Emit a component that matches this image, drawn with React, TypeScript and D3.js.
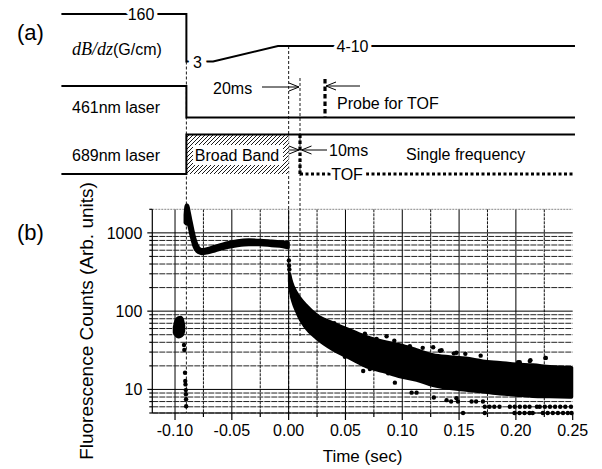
import React, { useRef, useEffect } from "react";
import * as d3 from "d3";

// ---- (b) fluorescence counts ----
// bright spike + plateau after the blue MOT is switched off
const plateauT = [-0.091, -0.09, -0.089, -0.0875, -0.086, -0.0845, -0.083, -0.081, -0.079, -0.0765, -0.072, -0.065, -0.055, -0.045, -0.035, -0.025, -0.015, -0.005, -0.0005];
const plateauLo = [1350, 1300, 1350, 1200, 950, 780, 660, 590, 560, 545, 555, 590, 650, 690, 710, 710, 690, 670, 650];
const plateauHi = [1700, 2250, 2250, 1800, 1400, 1100, 880, 720, 640, 610, 625, 670, 740, 790, 810, 800, 780, 760, 750];

// blue MOT fluorescence before t = -0.09
const blobT = [-0.1005, -0.099, -0.097, -0.095, -0.0935, -0.0925];
const blobLo = [53, 49, 47, 48, 50, 56];
const blobHi = [62, 76, 82, 83, 77, 66];

// decay after the broad band is switched off
const decayT = [0.0008, 0.002, 0.004, 0.007, 0.01, 0.015, 0.0246, 0.0393, 0.054, 0.0686, 0.0832, 0.0979, 0.1126, 0.127, 0.1419, 0.156, 0.171, 0.186, 0.2, 0.215, 0.23, 0.249];
const decayHi = [300, 250, 205, 170, 146, 120, 89, 70, 57.5, 47, 41, 37, 32, 27.6, 26, 25, 23, 22, 21, 20.5, 19.5, 19];
const decayLo = [240, 170, 130, 100, 80, 62, 45, 32, 25, 19.5, 17, 14.6, 13.2, 11.3, 10.3, 9.8, 9.3, 8.8, 8.5, 8.2, 8.1, 8];

// single points outside / on the edge of the dense band
const dotT = [
  -0.0921, -0.0918, -0.0912, -0.0910, -0.0908, -0.0905, -0.0904, -0.0903, -0.0902,
  0.0002, 0.0004, 0.0006,
  0.0401, 0.0495, 0.0627, 0.0656, 0.0671, 0.0715, 0.0774, 0.0803, 0.0862, 0.0876, 0.093, 0.0935,
  0.1067, 0.1082, 0.1126, 0.118, 0.1272, 0.1278, 0.1331, 0.1346, 0.1454, 0.1477, 0.1555, 0.169,
  0.2019, 0.2034, 0.2122, 0.2128, 0.226, 0.2263,
  0.139, 0.143, 0.1477, 0.149, 0.161, 0.165, 0.171,
  0.1726, 0.1768, 0.181, 0.1856, 0.1947, 0.199, 0.2035, 0.208, 0.212, 0.2185, 0.221, 0.2255, 0.23, 0.2345, 0.239, 0.2435, 0.2485,
  0.1535, 0.1726, 0.1988, 0.2032, 0.2076, 0.212, 0.2148, 0.2237, 0.228, 0.2325, 0.237, 0.2415, 0.2457, 0.249,
];
const dotV = [
  37, 32, 16.3, 12.8, 11.6, 9.8, 8.7, 7.5, 6.1,
  445, 380, 340,
  70, 26.2, 24, 17.2, 51.5, 18.2, 44, 18.2, 47.8, 16.1, 42, 12.2,
  35.6, 9.1, 9.1, 34, 34.6, 7.9, 31.2, 31.7, 28.9, 29.4, 28.5, 27,
  22.2, 22.2, 23, 23.6, 25.3, 25.3,
  7.3, 7, 7.7, 7, 7, 7, 7,
  6, 6, 6, 6, 6, 6, 6, 6, 6, 6, 6, 6, 6, 6, 6, 6, 6,
  5, 5, 5, 5, 5, 5, 5, 5, 5, 5, 5, 5, 5, 5,
];

const xTicks = [-0.1, -0.05, 0, 0.05, 0.1, 0.15, 0.2, 0.25];
const xMinor = [-0.075, -0.025, 0.025, 0.075, 0.125, 0.175, 0.225];
const xTickLabels = ["-0.10", "-0.05", "0.00", "0.05", "0.10", "0.15", "0.20", "0.25"];
const yLabels = [10, 100, 1000];

// ---- (a) timing sequence, times in sec ----
const tLeft = -0.2;
const tMotOff = -0.09;
const tRampStart = -0.0665;
const tRampEnd = -0.0094;
const tBroadOff = 0;
const tRelease = 0.01;
const tProbe = 0.032;
const tRight = 0.252;

const SANS = "'Liberation Sans', Arial, Helvetica, sans-serif";

export default function App() {
  const ref = useRef<SVGSVGElement>(null);

  useEffect(() => {
    const svg = d3.select(ref.current);
    svg.selectAll("*").remove();

    const x = d3.scaleLinear().domain([-0.12, 0.25]).range([152.3, 572.7]);
    const y = d3.scaleLog().domain([5, 2000]).range([413, 209.3]);
    const [left, right] = x.range();
    const [bottom, top] = y.range();

    const defs = svg.append("defs");
    const pat = defs
      .append("pattern")
      .attr("id", "hatch")
      .attr("patternUnits", "userSpaceOnUse")
      .attr("width", 4)
      .attr("height", 4);
    pat.append("rect").attr("width", 4).attr("height", 4).attr("fill", "#fff");
    pat
      .append("path")
      .attr("d", "M-1,1 l2,-2 M0,4 l4,-4 M3,5 l2,-2")
      .attr("stroke", "#000")
      .attr("stroke-width", 0.9);

    // grid
    const grid = svg.append("g");
    grid
      .selectAll("line.vmin")
      .data(xMinor)
      .join("line")
      .attr("x1", (d) => x(d))
      .attr("x2", (d) => x(d))
      .attr("y1", top)
      .attr("y2", bottom)
      .attr("stroke", "#111")
      .attr("stroke-width", 1)
      .attr("stroke-dasharray", "3,1");
    grid
      .selectAll("line.vmaj")
      .data(xTicks.filter((d) => d < 0.249))
      .join("line")
      .attr("x1", (d) => x(d))
      .attr("x2", (d) => x(d))
      .attr("y1", top)
      .attr("y2", bottom)
      .attr("stroke", "#000")
      .attr("stroke-width", 1);
    const yt = y.ticks();
    grid
      .selectAll("line.h")
      .data(yt)
      .join("line")
      .attr("x1", left)
      .attr("x2", right)
      .attr("y1", (d) => y(d))
      .attr("y2", (d) => y(d))
      .attr("stroke", (d) => (d >= 2000 ? "#888" : Math.log10(d) % 1 === 0 ? "#000" : "#222"))
      .attr("stroke-width", 1)
      .attr("stroke-dasharray", (d) => (Math.log10(d) % 1 === 0 ? null : d >= 2000 ? "2,1" : "6,1"));

    // axes
    const ax = svg.append("g").attr("stroke", "#000").attr("stroke-width", 1.2);
    ax.append("line").attr("x1", left).attr("x2", left).attr("y1", top).attr("y2", bottom);
    ax.append("line").attr("x1", left).attr("x2", right).attr("y1", bottom).attr("y2", bottom);
    ax.selectAll("line.yt")
      .data(yt)
      .join("line")
      .attr("x1", left)
      .attr("x2", (d) => left - (yLabels.includes(d) ? 5 : 3))
      .attr("y1", (d) => y(d))
      .attr("y2", (d) => y(d));
    ax.selectAll("line.xt")
      .data([...xTicks, ...xMinor])
      .join("line")
      .attr("x1", (d) => x(d))
      .attr("x2", (d) => x(d))
      .attr("y1", bottom)
      .attr("y2", (d) => bottom + (xTicks.includes(d) ? 7 : 4));

    const lab = svg.append("g").attr("font-family", SANS).attr("font-size", 16).attr("fill", "#000");
    lab.selectAll("text.yl")
      .data(yLabels)
      .join("text")
      .attr("x", left - 10)
      .attr("y", (d) => y(d))
      .attr("dy", "0.36em")
      .attr("text-anchor", "end")
      .text((d) => String(d));
    lab.selectAll("text.xl")
      .data(xTicks)
      .join("text")
      .attr("x", (d) => x(d))
      .attr("y", bottom + 23)
      .attr("text-anchor", "middle")
      .text((d, i) => xTickLabels[i]);
    lab.append("text")
      .attr("x", (left + right) / 2)
      .attr("y", 462)
      .attr("text-anchor", "middle")
      .attr("font-size", 17)
      .text("Time (sec)");
    lab.append("text")
      .attr("transform", "translate(93,321) rotate(-90)")
      .attr("text-anchor", "middle")
      .attr("font-size", 19)
      .text("Fluorescence Counts (Arb. units)");

    // dashed timing markers running through both panels
    const dashed = svg.append("g").attr("stroke", "#000").attr("stroke-width", 0.9).attr("stroke-dasharray", "3,2");
    dashed.append("line").attr("x1", x(tMotOff)).attr("x2", x(tMotOff)).attr("y1", 61.5).attr("y2", bottom);
    dashed.append("line").attr("x1", x(tBroadOff)).attr("x2", x(tBroadOff)).attr("y1", 46).attr("y2", bottom);
    dashed.append("line").attr("x1", x(tRelease)).attr("x2", x(tRelease)).attr("y1", 78).attr("y2", 337);

    // data
    const band = (ts: number[], lo: number[], hi: number[]) =>
      d3
        .area<number>()
        .x((d) => x(ts[d]))
        .y0((d) => y(lo[d]))
        .y1((d) => y(hi[d]))
        .curve(d3.curveMonotoneX)(d3.range(ts.length));
    const data = svg.append("g").attr("fill", "#000").attr("stroke", "#000").attr("stroke-width", 3.4).attr("stroke-linejoin", "round");
    data.append("path").attr("d", band(blobT, blobLo, blobHi));
    data.append("path").attr("d", band(plateauT, plateauLo, plateauHi));
    data.append("path").attr("d", band(decayT, decayLo, decayHi));
    svg
      .append("g")
      .selectAll("circle")
      .data(dotT)
      .join("circle")
      .attr("cx", (d) => x(d))
      .attr("cy", (d, i) => y(dotV[i]))
      .attr("r", 2.2)
      .attr("fill", "#000");

    // ---- (a) timing diagram ----
    const td = svg.append("g");
    const solid = td.append("g").attr("fill", "none").attr("stroke", "#000").attr("stroke-width", 2);
    solid.append("path").attr(
      "d",
      `M${x(tLeft)},14H${x(tMotOff)}V61.5H${x(tRampStart)}L${x(tRampEnd)},46H${x(tRight)}`
    );
    solid.append("path").attr("d", `M${x(tLeft)},86H${x(tMotOff)}V117.5H${x(tRight)}`);
    td.append("rect")
      .attr("x", x(tMotOff))
      .attr("y", 134.5)
      .attr("width", x(tBroadOff) - x(tMotOff))
      .attr("height", 39.5)
      .attr("fill", "url(#hatch)");
    td.append("rect").attr("x", 193).attr("y", 145).attr("width", 90).attr("height", 20).attr("fill", "#fff");
    solid.raise();
    solid.append("path").attr("d", `M${x(tLeft)},174H${x(tMotOff)}V134.5H${x(tRight)}`);

    const dotted = td.append("g").attr("stroke", "#000").attr("stroke-width", 3.2);
    dotted.append("line").attr("x1", x(tProbe)).attr("x2", x(tProbe)).attr("y1", 79).attr("y2", 117.5).attr("stroke-dasharray", "4.5,3");
    dotted.append("line").attr("x1", x(tRelease)).attr("x2", x(tRelease)).attr("y1", 134.5).attr("y2", 174).attr("stroke-dasharray", "3.5,2.5");
    dotted.append("line").attr("x1", x(tRelease)).attr("x2", x(tRight)).attr("y1", 174).attr("y2", 174).attr("stroke-dasharray", "3,2.5");

    const arrow = (x1: number, x2: number, yy: number) => {
      const s = Math.sign(x2 - x1);
      td.append("path")
        .attr("d", `M${x1},${yy}H${x2}M${x2 - s * 10},${yy - 4}L${x2},${yy}L${x2 - s * 10},${yy + 4}`)
        .attr("fill", "none")
        .attr("stroke", "#000")
        .attr("stroke-width", 1);
    };
    arrow(262, x(tRelease) - 1, 87);
    arrow(360, x(tProbe) + 1, 86);
    arrow(x(tBroadOff), x(tRelease) - 1, 150);
    arrow(327, x(tRelease) + 1.5, 150);

    const tx = td.append("g").attr("font-family", SANS).attr("font-size", 16).attr("fill", "#000");
    const halo = (sel: d3.Selection<SVGTextElement, unknown, null, undefined>, w: number) =>
      sel.attr("stroke", "#fff").attr("stroke-width", w).attr("paint-order", "stroke").attr("stroke-linejoin", "round");
    halo(tx.append("text").attr("x", 141).attr("y", 14).attr("dy", "0.36em").attr("text-anchor", "middle").text("160"), 7);
    halo(tx.append("text").attr("x", 197.5).attr("y", 62).attr("dy", "0.36em").attr("text-anchor", "middle").text("3"), 11);
    halo(tx.append("text").attr("x", 352.5).attr("y", 46).attr("dy", "0.36em").attr("text-anchor", "middle").text("4-10"), 7);
    halo(tx.append("text").attr("x", 347).attr("y", 180).attr("text-anchor", "middle").text("TOF"), 8);

    const dbdz = tx.append("text").attr("x", 72).attr("y", 55);
    dbdz.append("tspan").attr("font-family", "'Liberation Serif', 'Times New Roman', serif").attr("font-style", "italic").attr("font-size", 18).text("dB/dz");
    dbdz.append("tspan").text("(G/cm)");
    tx.append("text").attr("x", 72).attr("y", 113).text("461nm laser");
    tx.append("text").attr("x", 72).attr("y", 161).text("689nm laser");
    tx.append("text").attr("x", 237).attr("y", 161).attr("text-anchor", "middle").text("Broad Band");
    tx.append("text").attr("x", 406).attr("y", 160).text("Single frequency");
    tx.append("text").attr("x", 213).attr("y", 94).text("20ms");
    tx.append("text").attr("x", 337).attr("y", 109).text("Probe for TOF");
    tx.append("text").attr("x", 329).attr("y", 156).text("10ms");

    const panel = svg.append("g").attr("font-family", SANS).attr("font-size", 22).attr("fill", "#000");
    panel.append("text").attr("x", 17).attr("y", 40).text("(a)");
    panel.append("text").attr("x", 17).attr("y", 240).text("(b)");
  }, []);

  return (
    <svg
      ref={ref}
      width={602}
      height={469}
      style={{ position: "absolute", left: 0, top: 0, background: "#fff" }}
    />
  );
}
